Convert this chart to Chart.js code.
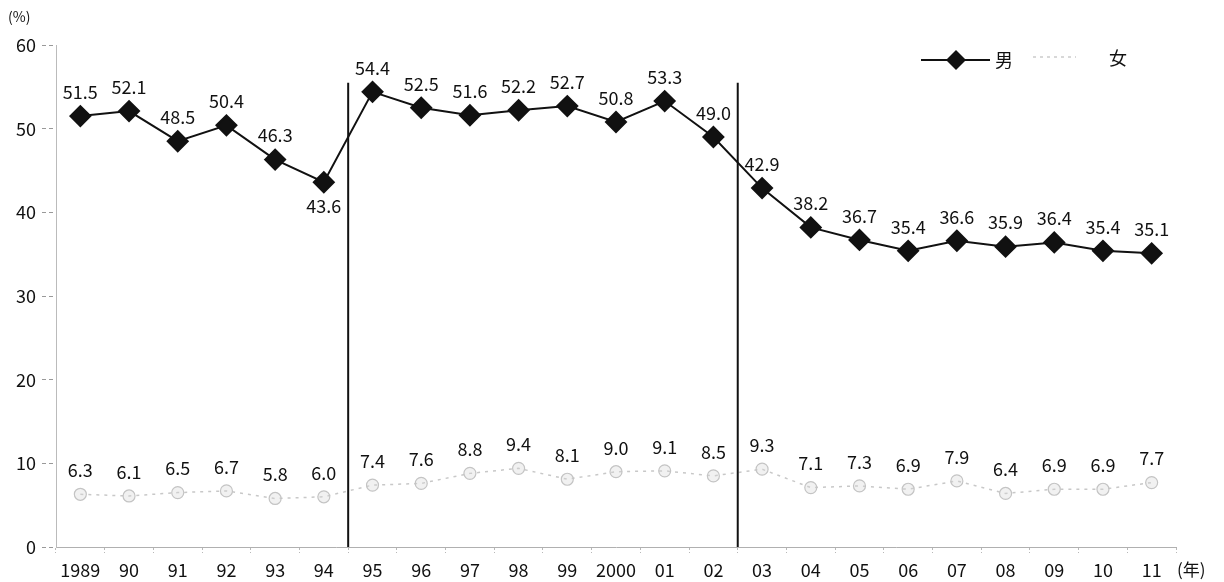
<!DOCTYPE html>
<html>
<head>
<meta charset="utf-8">
<script src="https://cdn.jsdelivr.net/npm/chart.js@4/dist/chart.umd.min.js"></script>
<style>
  html, body { margin: 0; padding: 0; background: #fff; }
  #wrap { width: 1224px; height: 582px; }
</style>
</head>
<body>
<div id="wrap"><canvas id="c" width="1224" height="582"></canvas></div>
<script>
const categories = ['1989','90','91','92','93','94','95','96','97','98','99','2000','01','02','03','04','05','06','07','08','09','10','11'];
const menValues = [51.5, 52.1, 48.5, 50.4, 46.3, 43.6, 54.4, 52.5, 51.6, 52.2, 52.7, 50.8, 53.3, 49.0, 42.9, 38.2, 36.7, 35.4, 36.6, 35.9, 36.4, 35.4, 35.1];
const womenValues = [6.3, 6.1, 6.5, 6.7, 5.8, 6.0, 7.4, 7.6, 8.8, 9.4, 8.1, 9.0, 9.1, 8.5, 9.3, 7.1, 7.3, 6.9, 7.9, 6.4, 6.9, 6.9, 7.7];
const seriesNames = ['男', '女'];
const yTickValues = [0, 10, 20, 30, 40, 50, 60];
const dividerAfter = ['94', '02'];
const menLabelsBelow = ['94'];
const yUnit = '(%)';
const xUnit = '(年)';

const FONT = '"Noto Sans CJK JP", "Noto Sans", sans-serif';

const overlay = {
  id: 'overlay',
  afterDatasetsDraw(chart) {
    const ctx = chart.ctx;
    const x = chart.scales.x, y = chart.scales.y;
    ctx.save();
    // divider lines
    ctx.strokeStyle = '#111';
    ctx.lineWidth = 2;
    dividerAfter.forEach(cat => {
      const i = categories.indexOf(cat);
      const px = (x.getPixelForValue(i) + x.getPixelForValue(i + 1)) / 2;
      ctx.beginPath();
      ctx.moveTo(px, y.getPixelForValue(55.5));
      ctx.lineTo(px, y.getPixelForValue(0));
      ctx.stroke();
    });
    // data labels
    ctx.font = '18px ' + FONT;
    ctx.textAlign = 'center';
    ctx.textBaseline = 'middle';
    chart.data.datasets.forEach((ds, di) => {
      const meta = chart.getDatasetMeta(di);
      meta.data.forEach((pt, i) => {
        const v = ds.data[i];
        let dy = -24;
        if (di === 0 && menLabelsBelow.includes(categories[i])) dy = 24;
        ctx.fillStyle = '#111';
        ctx.fillText(v.toFixed(1), pt.x, pt.y + dy);
      });
    });
    // unit labels
    ctx.font = '14px ' + FONT;
    ctx.textAlign = 'left';
    ctx.fillText(yUnit, 8, 17);
    ctx.font = '17px ' + FONT;
    ctx.fillText(xUnit, x.right + 1, 570);
    // legend
    const ly = 60;
    ctx.strokeStyle = '#111';
    ctx.lineWidth = 2;
    ctx.beginPath(); ctx.moveTo(921, ly); ctx.lineTo(990, ly); ctx.stroke();
    ctx.fillStyle = '#111';
    ctx.beginPath();
    ctx.moveTo(956, ly - 10); ctx.lineTo(966, ly); ctx.lineTo(956, ly + 10); ctx.lineTo(946, ly); ctx.closePath(); ctx.fill();
    ctx.font = '18px ' + FONT;
    ctx.textAlign = 'left';
    ctx.fillText(seriesNames[0], 995, ly);
    ctx.strokeStyle = '#ccc';
    ctx.lineWidth = 1.5;
    ctx.setLineDash([3, 4]);
    ctx.beginPath(); ctx.moveTo(1033, ly - 3); ctx.lineTo(1076, ly - 3); ctx.stroke();
    ctx.setLineDash([]);
    ctx.fillStyle = '#111';
    ctx.fillText(seriesNames[1], 1109, ly - 2);
    ctx.restore();
  }
};

new Chart(document.getElementById('c'), {
  type: 'line',
  data: {
    labels: categories,
    datasets: [
      {
        label: seriesNames[0],
        data: menValues,
        borderColor: '#111',
        backgroundColor: '#111',
        borderWidth: 2,
        pointStyle: 'rectRot',
        pointRadius: 10,
        pointHoverRadius: 10,
        pointBackgroundColor: '#111',
        pointBorderColor: '#111',
        tension: 0
      },
      {
        label: seriesNames[1],
        data: womenValues,
        borderColor: '#c8c8c8',
        borderWidth: 1.5,
        borderDash: [3, 5],
        pointStyle: 'circle',
        pointRadius: 6,
        pointHoverRadius: 6,
        pointBackgroundColor: 'rgba(215,215,215,0.35)',
        pointBorderColor: '#c4c4c4',
        pointBorderWidth: 1.2,
        tension: 0
      }
    ]
  },
  options: {
    responsive: false,
    animation: false,
    layout: { padding: { top: 45, right: 48, bottom: 0, left: 0 } },
    plugins: { legend: { display: false }, tooltip: { enabled: false } },
    scales: {
      x: {
        offset: true,
        afterFit(s) { s.height = 35; },
        grid: {
          offset: true,
          drawOnChartArea: false,
          drawTicks: true,
          tickLength: 6,
          color: '#b8b8b8',
          tickBorderDash: [2, 2]
        },
        border: { display: true, color: '#b0b0b0', dash: [3, 4], width: 1 },
        ticks: {
          color: '#111',
          padding: 6,
          maxRotation: 0,
          autoSkip: false,
          font: { family: FONT, size: 18 }
        }
      },
      y: {
        min: 0,
        max: 60,
        afterFit(s) { s.width = 56; },
        afterBuildTicks(s) { s.ticks = yTickValues.map(v => ({ value: v })); },
        grid: {
          drawOnChartArea: false,
          drawTicks: true,
          tickLength: 14,
          color: '#999',
          tickBorderDash: [4, 3]
        },
        border: { display: true, color: '#bbb', dash: [2, 4], width: 1 },
        ticks: {
          color: '#111',
          padding: 6,
          font: { family: FONT, size: 18 }
        }
      }
    }
  },
  plugins: [overlay]
});
</script>
</body>
</html>
